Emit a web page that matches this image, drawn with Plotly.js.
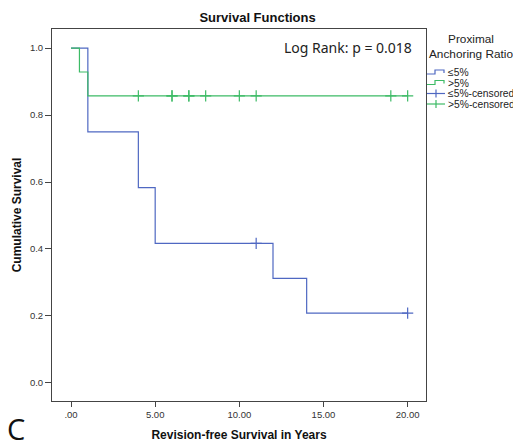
<!DOCTYPE html>
<html>
<head>
<meta charset="utf-8">
<script src="https://cdn.plot.ly/plotly-3.0.1.min.js"></script>
<style>html,body{margin:0;padding:0;background:#fff;}#chart{width:513px;height:444px;}</style>
</head>
<body>
<div id="chart"></div>
<script>
// ---- data ----
var lowTime = [0, 1, 4, 5, 11, 12, 14, 20];
var lowSurv = [1, 0.75, 0.5833, 0.4167, 0.4167, 0.3125, 0.2083, 0.2083];
var lowCensTime = [11, 20];
var lowCensSurv = [0.4167, 0.2083];

var highTime = [0, 0.5, 1, 20];
var highSurv = [1, 0.9286, 0.8571, 0.8571];
var highCensTime = [4, 6, 6, 7, 7, 8, 10, 11, 19, 20];
var highCensSurv = [0.8571, 0.8571, 0.8571, 0.8571, 0.8571, 0.8571, 0.8571, 0.8571, 0.8571, 0.8571];

var xTickVals = [0, 5, 10, 15, 20];
var xTickText = ['.00', '5.00', '10.00', '15.00', '20.00'];
var yTickVals = [0, 0.2, 0.4, 0.6, 0.8, 1.0];
var yTickText = ['0.0', '0.2', '0.4', '0.6', '0.8', '1.0'];

var legendLabels = ['\u22645%', '>5%', '\u22645%-censored', '>5%-censored'];

var BLUE = '#4f68c2';
var GREEN = '#3dbb66';

// ---- layout geometry (pixels) ----
var W = 513, H = 444, ML = 52, MR = 87, MT = 29, MB = 43;
var PW = W - ML - MR, PH = H - MT - MB;
function X(px) { return (px - ML) / PW; }
function Y(py) { return (H - MB - py) / PH; }

var traces = [
  {x: lowTime, y: lowSurv, mode: 'lines', line: {shape: 'hv', color: BLUE, width: 1.2}, showlegend: false, hoverinfo: 'skip'},
  {x: highTime, y: highSurv, mode: 'lines', line: {shape: 'hv', color: GREEN, width: 1.2}, showlegend: false, hoverinfo: 'skip'},
  {x: lowCensTime, y: lowCensSurv, mode: 'markers', marker: {symbol: 'cross-thin', size: 8, line: {color: BLUE, width: 1.2}}, showlegend: false},
  {x: highCensTime, y: highCensSurv, mode: 'markers', marker: {symbol: 'cross-thin', size: 8, line: {color: GREEN, width: 1.2}}, showlegend: false}
];

var shapes = [];
var annotations = [];
var rowY = [72.5, 83, 93.5, 104];
var colors = [BLUE, GREEN, BLUE, GREEN];
for (var i = 0; i < 4; i++) {
  var yy = rowY[i];
  if (i < 2) {
    shapes.push({type: 'path', xref: 'paper', yref: 'paper',
      path: 'M' + X(427) + ',' + Y(yy + 1.5) + ' L' + X(435) + ',' + Y(yy + 1.5) + ' L' + X(435) + ',' + Y(yy - 2.5) +
            ' L' + X(444) + ',' + Y(yy - 2.5) + ' L' + X(444) + ',' + Y(yy + 0.5),
      line: {color: colors[i], width: 1.2}});
  } else {
    shapes.push({type: 'line', xref: 'paper', yref: 'paper', x0: X(427), x1: X(445), y0: Y(yy), y1: Y(yy), line: {color: colors[i], width: 1.2}});
    shapes.push({type: 'line', xref: 'paper', yref: 'paper', x0: X(436), x1: X(436), y0: Y(yy - 4), y1: Y(yy + 4), line: {color: colors[i], width: 1.2}});
  }
  annotations.push({xref: 'paper', yref: 'paper', x: X(446), y: Y(yy), xanchor: 'left', yanchor: 'middle',
    text: legendLabels[i], showarrow: false, font: {family: 'Liberation Sans, Arial, sans-serif', size: 10.3, color: '#222'}});
}
annotations.push({xref: 'paper', yref: 'paper', x: X(471), y: Y(47), xanchor: 'center', yanchor: 'middle',
  text: 'Proximal<br>Anchoring Ratio', showarrow: false, align: 'center',
  font: {family: 'Liberation Sans, Arial, sans-serif', size: 11.8, color: '#222'}});
annotations.push({xref: 'paper', yref: 'paper', x: X(414), y: Y(48), xanchor: 'right', yanchor: 'middle',
  text: 'Log Rank: p = 0.018', showarrow: false,
  font: {family: 'Noto Sans, sans-serif', size: 14, color: '#222'}});
annotations.push({xref: 'paper', yref: 'paper', x: X(5), y: Y(428), xanchor: 'left', yanchor: 'middle',
  text: 'C', showarrow: false,
  font: {family: 'Open Sans, sans-serif', size: 29, color: '#111'}});

var layout = {
  width: W, height: H,
  margin: {l: ML, r: MR, t: MT, b: MB, pad: 0},
  paper_bgcolor: '#fff', plot_bgcolor: '#fff',
  showlegend: false,
  title: {text: '<b>Survival Functions</b>', x: 282 / W, xref: 'paper', xanchor: 'center',
          y: 1 - 17 / H, yref: 'container', yanchor: 'middle',
          font: {family: 'Liberation Sans, Arial, sans-serif', size: 13, color: '#111'}},
  xaxis: {range: [-1.13, 21.09], tickvals: xTickVals, ticktext: xTickText,
          showgrid: false, zeroline: false, showline: true, mirror: true, linecolor: '#444', linewidth: 1,
          ticks: 'outside', ticklen: 5, tickcolor: '#444',
          tickfont: {family: 'Liberation Sans, Arial, sans-serif', size: 9.5, color: '#333'},
          title: {text: '<b>Revision-free Survival in Years</b>', standoff: 11,
                  font: {family: 'Liberation Sans, Arial, sans-serif', size: 12, color: '#111'}}},
  yaxis: {range: [-0.054, 1.057], tickvals: yTickVals, ticktext: yTickText,
          showgrid: false, zeroline: false, showline: true, mirror: true, linecolor: '#444', linewidth: 1,
          ticks: 'outside', ticklen: 6, tickcolor: '#444',
          tickfont: {family: 'Liberation Sans, Arial, sans-serif', size: 9.5, color: '#333'},
          title: {text: '<b>Cumulative Survival</b>', standoff: 5,
                  font: {family: 'Liberation Sans, Arial, sans-serif', size: 12, color: '#111'}}},
  shapes: shapes,
  annotations: annotations
};

Plotly.newPlot('chart', traces, layout, {staticPlot: true, displayModeBar: false});
</script>
</body>
</html>
